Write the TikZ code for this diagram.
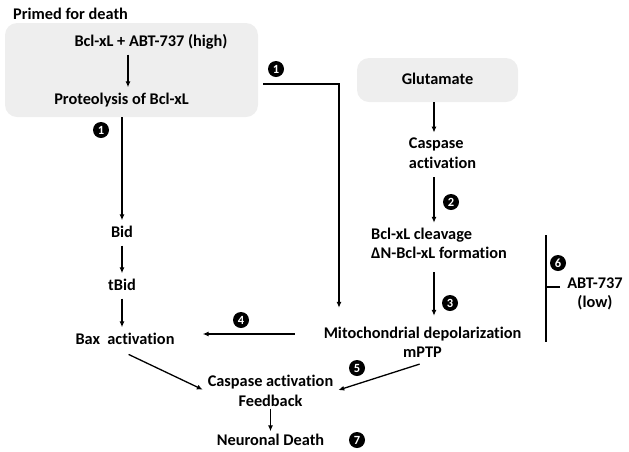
\documentclass[tikz,border=0pt]{standalone}
\usepackage{fontspec}
\setmainfont{Carlito}[Ligatures=NoCommon]
\usetikzlibrary{arrows.meta,calc}

\definecolor{boxgray}{RGB}{238,238,238}

\tikzset{
  txt/.style={font=\fontsize{16.3}{19.5}\selectfont\bfseries, inner sep=5pt, align=center},
  onel/.style={txt, text height=11.5pt, text depth=3.5pt},
  graybox/.style={fill=boxgray, rounded corners=12pt, draw=none},
  num/.style={circle, fill=black, text=white, inner sep=0pt, minimum size=16pt,
    font=\fontsize{12.5}{12.5}\selectfont\bfseries},
  arr/.style={->, line width=1.3pt},
  >={Latex[length=6pt,width=5pt]}
}

\begin{document}
\begin{tikzpicture}[x=1pt,y=-1pt]
  \useasboundingbox (0,0) rectangle (629,451);

  % primed for death
  \node[onel, anchor=west, inner sep=0pt] (primed) at (13,15) {Primed for death};
  \node[graybox, minimum width=253pt, minimum height=94pt] (hibox) at (131.5,70) {};
  \node[onel] (high) at (151,42) {Bcl-xL + ABT-737 (high)};
  \node[onel] (prot) at (121.5,100) {Proteolysis of Bcl-xL};
  \draw[arr] ([xshift=6.5pt]prot.north |- high.south) -- ([xshift=6.5pt]prot.north);

  % glutamate column
  \coordinate (col) at (434,0);
  \node[graybox, minimum width=161pt, minimum height=44pt, onel] (glut) at (437.5,80) {Glutamate};
  \node[txt, align=left] (casp) at (442.5,153) {Caspase\\activation};
  \node[txt, align=left] (cleave) at (439,243.5) {Bcl-xL cleavage\\ΔN-Bcl-xL formation};
  \node[txt] (mito) at (422.5,342.5) {Mitochondrial depolarization\\mPTP};
  \draw[arr] (glut.south -| col) -- (casp.north -| col);
  \draw[arr, shorten <=4pt] (casp.south -| col) -- (cleave.north -| col);
  \draw[arr, shorten <=8pt, shorten >=6pt] (cleave.south -| col) -- (mito.north -| col);

  % left column
  \node[onel] (bid) at (122,233) {Bid};
  \node[onel] (tbid) at (122,286) {tBid};
  \node[onel] (bax) at (125,340) {Bax\ \ activation};
  \draw[arr] (hibox.south -| bid) -- (bid.north);
  \draw[arr] (bid) -- (tbid);
  \draw[arr] (tbid) -- (bid |- bax.north);

  % branch from proteolysis to mitochondria
  \coordinate (j1) at (339,84);
  \draw[arr, shorten >=14pt] ([xshift=5pt]hibox.east |- j1) -- (j1) -- (j1 |- mito.north);

  % mitochondria back to bax
  \coordinate (lvl4) at (0,334);
  \draw[arr] ([xshift=-24pt]mito.west |- lvl4) -- ([xshift=23pt]bax.east |- lvl4);

  % feedback and death
  \node[txt, inner sep=2pt] (feed) at (270.5,391) {Caspase activation\\Feedback};
  \node[onel, inner sep=2pt] (death) at (270.5,441) {Neuronal Death};
  \draw[arr] (feed.south) -- (death.north);
  \draw[arr, shorten <=4pt, shorten >=3pt] (bax.south) -- (feed.west);
  \draw[arr, shorten <=3pt, shorten >=3pt] (mito.south) -- (feed.east);

  % ABT-737 low
  \node[txt] (abt) at (595,294) {ABT-737\\(low)};
  \coordinate (bartop) at (546,235);
  \coordinate (barbot) at (546,342);
  \draw[line width=1.3pt] (bartop) -- (barbot);
  \draw[line width=1.3pt, shorten <=2pt] ([yshift=7pt]abt.west) -- ([yshift=7pt]abt.west -| bartop);

  % step numbers
  \node[num] (n1a) at (276,69) {1};
  \node[num] (n1b) at (101,130) {1};
  \node[num] (n2) at (451,202) {2};
  \node[num] (n3) at (450,303) {3};
  \node[num] (n4) at (241,320) {4};
  \node[num] (n5) at (357,368) {5};
  \node[num] (n6) at (558,263) {6};
  \node[num] (n7) at (357,440) {7};
\end{tikzpicture}
\end{document}
